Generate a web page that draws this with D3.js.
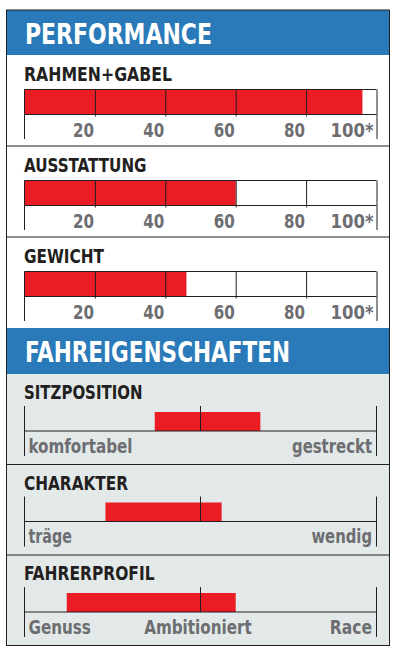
<!DOCTYPE html>
<html><head><meta charset="utf-8">
<script src="https://cdn.jsdelivr.net/npm/d3@7/dist/d3.min.js"></script>
<style>
html,body{margin:0;padding:0;background:#fff;}
svg{display:block;}
text{font-family:"DejaVu Sans Condensed","Liberation Sans Narrow","Arial Narrow",sans-serif;font-weight:bold;}
</style></head>
<body>
<script>
// ---- data ----
const perfTitle = "PERFORMANCE";
const perfCategories = ["RAHMEN+GABEL", "AUSSTATTUNG", "GEWICHT"];
const perfValues = [96, 60, 46];
const perfTicks = [20, 40, 60, 80, 100];
const perfTickLabels = ["20", "40", "60", "80", "100*"];

const driveTitle = "FAHREIGENSCHAFTEN";
const driveCategories = ["SITZPOSITION", "CHARAKTER", "FAHRERPROFIL"];
const driveLow = [37, 23, 12];
const driveHigh = [67, 56, 60];
const driveScaleLabels = [
  ["komfortabel", "gestreckt"],
  ["träge", "wendig"],
  ["Genuss", "Ambitioniert", "Race"]
];

// ---- layout (rendered text widths of the condensed original typeface) ----
const textWidth = {
  "PERFORMANCE": 187, "FAHREIGENSCHAFTEN": 265,
  "RAHMEN+GABEL": 148, "AUSSTATTUNG": 122.5, "GEWICHT": 80,
  "SITZPOSITION": 118.5, "CHARAKTER": 104, "FAHRERPROFIL": 130.5,
  "komfortabel": 104, "gestreckt": 80, "träge": 43.3, "wendig": 60.6,
  "Genuss": 62.4, "Ambitioniert": 107.7, "Race": 42.3,
  "20": 21, "40": 21, "60": 21, "80": 21, "100*": 43
};
function fit(sel) {
  sel.each(function () {
    const t = d3.select(this).text();
    if (textWidth[t]) d3.select(this).attr("textLength", textWidth[t]).attr("lengthAdjust", "spacingAndGlyphs");
  });
  return sel;
}

const W = 399, H = 653;
const BLUE = "#2a7ab9", RED = "#ec1c24", INK = "#231f20", GREY = "#6d6e71", BG2 = "#e3e9e8";
const boxL = 6.5, boxR = 389.5, boxT = 10, boxB = 645.5;
const x = d3.scaleLinear().domain([0, 100]).range([24.5, 376.5]);

const svg = d3.select("body").append("svg").attr("width", W).attr("height", H);

// backgrounds
svg.append("rect").attr("x", boxL).attr("y", boxT).attr("width", boxR - boxL).attr("height", boxB - boxT).attr("fill", "#fff");
const h1T = boxT, h1B = 55, perfH = 91;
const h2T = h1B + perfH * 3, h2B = h2T + 46;
svg.append("rect").attr("x", boxL).attr("y", h2B).attr("width", boxR - boxL).attr("height", boxB - h2B).attr("fill", BG2);
svg.append("rect").attr("x", boxL).attr("y", h1T).attr("width", boxR - boxL).attr("height", h1B - h1T).attr("fill", BLUE);
svg.append("rect").attr("x", boxL).attr("y", h2T).attr("width", boxR - boxL).attr("height", h2B - h2T).attr("fill", BLUE);

fit(svg.append("text").attr("x", 25).attr("y", 43.5).attr("fill", "#fff").attr("font-size", 29).text(perfTitle));
fit(svg.append("text").attr("x", 25).attr("y", h2T + 34).attr("fill", "#fff").attr("font-size", 29).text(driveTitle));

// ---- performance sections ----
perfCategories.forEach((cat, i) => {
  const top = h1B + i * perfH;
  const g = svg.append("g");
  const trackT = top + 34.5, axisY = top + 59.5;
  if (i > 0) g.append("line").attr("x1", boxL).attr("x2", boxR).attr("y1", top).attr("y2", top).attr("stroke", INK).attr("stroke-width", 1);
  fit(g.append("text").attr("x", 24).attr("y", top + 26).attr("fill", INK).attr("font-size", 19).text(cat));
  g.append("rect").attr("x", x(0)).attr("y", trackT).attr("width", x(perfValues[i]) - x(0)).attr("height", axisY - trackT).attr("fill", RED);
  g.append("line").attr("x1", x(0)).attr("x2", x(100)).attr("y1", trackT).attr("y2", trackT).attr("stroke", INK);
  const axis = d3.axisBottom(x).tickValues(perfTicks).tickSize(0)
    .tickFormat((d, k) => perfTickLabels[k]);
  const ag = g.append("g").attr("transform", `translate(0,${axisY})`).call(axis);
  ag.select(".domain").attr("stroke", INK).attr("d", `M${x(0)},0H${x(100)}`);
  ag.selectAll(".tick line").attr("stroke", INK).attr("y1", -(axisY - trackT)).attr("y2", 2);
  fit(ag.selectAll(".tick text").attr("fill", GREY).attr("font-size", 19.5)
    .attr("font-family", null).attr("text-anchor", "end").attr("dy", null).attr("y", 22).attr("x", -1.5));
  ag.selectAll(".tick").filter(d => d === 100).select("line").attr("y2", 24.5);
  ag.selectAll(".tick").filter(d => d === 100).select("text").attr("x", -3.5);
  g.append("line").attr("x1", x(0)).attr("x2", x(0)).attr("y1", trackT).attr("y2", axisY + 24.5).attr("stroke", INK);
});

// ---- driving sections ----
const driveH = (boxB - h2B) / 3;
driveCategories.forEach((cat, i) => {
  const top = h2B + i * driveH;
  const g = svg.append("g");
  if (i > 0) g.append("line").attr("x1", boxL).attr("x2", boxR).attr("y1", top).attr("y2", top).attr("stroke", INK);
  const endT = top + 32, barT = top + 38, baseY = top + 57, endB = top + 82;
  fit(g.append("text").attr("x", 24).attr("y", top + 25).attr("fill", INK).attr("font-size", 19).text(cat));
  g.append("rect").attr("x", x(driveLow[i])).attr("y", barT).attr("width", x(driveHigh[i]) - x(driveLow[i])).attr("height", baseY - barT).attr("fill", RED);
  g.append("line").attr("x1", x(0)).attr("x2", x(100)).attr("y1", baseY).attr("y2", baseY).attr("stroke", INK);
  g.append("line").attr("x1", x(50)).attr("x2", x(50)).attr("y1", endT).attr("y2", baseY).attr("stroke", INK);
  [0, 100].forEach(v => g.append("line").attr("x1", x(v)).attr("x2", x(v)).attr("y1", endT).attr("y2", endB).attr("stroke", INK));
  const labs = driveScaleLabels[i];
  labs.forEach((t, k) => {
    let anchor = "middle", lx = x(50) - 2.5;
    if (k === 0) { anchor = "start"; lx = x(0) + 4; }
    else if (k === labs.length - 1) { anchor = "end"; lx = x(100) - 4.5; }
    fit(g.append("text").attr("x", lx).attr("y", top + 78.5).attr("text-anchor", anchor)
      .attr("fill", GREY).attr("font-size", 19).text(t));
  });
});

// outer border
svg.append("rect").attr("x", boxL).attr("y", boxT).attr("width", boxR - boxL).attr("height", boxB - boxT)
  .attr("fill", "none").attr("stroke", INK).attr("stroke-width", 1);
</script>
</body></html>
